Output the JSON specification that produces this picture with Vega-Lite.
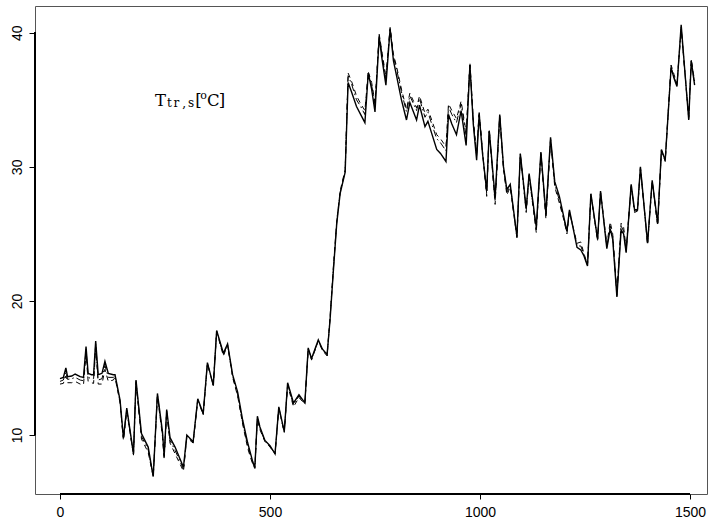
{
  "$schema": "https://vega.github.io/schema/vega-lite/v6.json",
  "autosize": {"type": "none"},
  "padding": {"left": 35, "top": 6, "right": 5, "bottom": 31},
  "width": 672,
  "height": 488,
  "background": "white",
  "config": {
    "view": {"stroke": "#555555", "strokeWidth": 1},
    "axis": {
      "domain": false,
      "grid": false,
      "ticks": true,
      "tickColor": "black",
      "tickWidth": 1,
      "labelFont": "Liberation Sans",
      "labelFontSize": 14,
      "labelColor": "black",
      "title": null
    }
  },
  "data": {
    "values": [
      {"t": 0, "s": 14.2, "d": 13.8, "dd": 14.0},
      {"t": 8, "s": 14.3, "d": 13.85, "dd": 14.1},
      {"t": 14, "s": 15.0, "d": 14.4, "dd": 14.7},
      {"t": 18, "s": 14.35, "d": 13.9, "dd": 14.15},
      {"t": 28, "s": 14.4, "d": 13.9, "dd": 14.2},
      {"t": 36, "s": 14.55, "d": 14.0, "dd": 14.3},
      {"t": 48, "s": 14.35, "d": 13.8, "dd": 14.1},
      {"t": 56, "s": 14.3, "d": 13.75, "dd": 14.05},
      {"t": 62, "s": 16.6, "d": 16.1, "dd": 16.4},
      {"t": 67, "s": 14.6, "d": 14.0, "dd": 14.3},
      {"t": 75, "s": 14.5, "d": 13.9, "dd": 14.2},
      {"t": 80, "s": 14.5, "d": 13.85, "dd": 14.2},
      {"t": 85, "s": 17.0, "d": 16.5, "dd": 16.8},
      {"t": 91, "s": 14.5, "d": 13.8, "dd": 14.1},
      {"t": 100, "s": 14.6, "d": 13.8, "dd": 14.2},
      {"t": 107, "s": 15.5, "d": 14.9, "dd": 15.2},
      {"t": 115, "s": 14.6, "d": 14.0, "dd": 14.3},
      {"t": 127, "s": 14.5, "d": 14.1, "dd": 14.3},
      {"t": 131, "s": 14.5, "d": 14.3, "dd": 14.4},
      {"t": 143, "s": 12.6, "d": 12.4, "dd": 12.5},
      {"t": 151, "s": 9.8, "d": 9.6, "dd": 9.7},
      {"t": 159, "s": 12.0, "d": 11.8, "dd": 11.9},
      {"t": 175, "s": 8.6, "d": 8.5, "dd": 8.5},
      {"t": 181, "s": 14.1, "d": 13.9, "dd": 14.0},
      {"t": 194, "s": 10.1, "d": 9.7, "dd": 9.9},
      {"t": 210, "s": 9.1, "d": 8.7, "dd": 8.9},
      {"t": 222, "s": 6.9, "d": 6.9, "dd": 6.9},
      {"t": 232, "s": 13.1, "d": 12.9, "dd": 13.0},
      {"t": 244, "s": 10.25, "d": 9.9, "dd": 10.1},
      {"t": 248, "s": 8.4, "d": 8.2, "dd": 8.3},
      {"t": 254, "s": 11.9, "d": 11.7, "dd": 11.8},
      {"t": 262, "s": 9.8, "d": 9.4, "dd": 9.6},
      {"t": 274, "s": 9.1, "d": 8.6, "dd": 8.85},
      {"t": 294, "s": 7.6, "d": 7.3, "dd": 7.45},
      {"t": 302, "s": 10.0, "d": 9.8, "dd": 9.9},
      {"t": 317, "s": 9.5, "d": 9.4, "dd": 9.45},
      {"t": 328, "s": 12.7, "d": 12.6, "dd": 12.65},
      {"t": 341, "s": 11.6, "d": 11.5, "dd": 11.55},
      {"t": 351, "s": 15.4, "d": 15.3, "dd": 15.35},
      {"t": 365, "s": 13.7, "d": 13.7, "dd": 13.7},
      {"t": 373, "s": 17.8, "d": 17.7, "dd": 17.75},
      {"t": 389, "s": 16.1, "d": 15.9, "dd": 16.0},
      {"t": 399, "s": 16.8, "d": 16.7, "dd": 16.75},
      {"t": 411, "s": 14.5, "d": 14.3, "dd": 14.4},
      {"t": 423, "s": 13.2, "d": 12.9, "dd": 13.0},
      {"t": 435, "s": 11.1, "d": 10.8, "dd": 10.9},
      {"t": 447, "s": 9.4, "d": 9.0, "dd": 9.2},
      {"t": 459, "s": 8.0, "d": 7.8, "dd": 7.9},
      {"t": 464, "s": 7.6, "d": 7.5, "dd": 7.55},
      {"t": 470, "s": 11.4, "d": 11.2, "dd": 11.3},
      {"t": 476, "s": 10.6, "d": 10.4, "dd": 10.5},
      {"t": 488, "s": 9.6, "d": 9.5, "dd": 9.55},
      {"t": 500, "s": 9.2, "d": 9.1, "dd": 9.15},
      {"t": 512, "s": 8.6, "d": 8.6, "dd": 8.6},
      {"t": 521, "s": 12.1, "d": 12.0, "dd": 12.05},
      {"t": 534, "s": 10.25, "d": 10.2, "dd": 10.2},
      {"t": 542, "s": 13.9, "d": 13.7, "dd": 13.8},
      {"t": 556, "s": 12.4, "d": 12.1, "dd": 12.25},
      {"t": 569, "s": 13.0, "d": 12.8, "dd": 12.9},
      {"t": 583, "s": 12.4, "d": 12.3, "dd": 12.35},
      {"t": 591, "s": 16.5, "d": 16.4, "dd": 16.45},
      {"t": 599, "s": 15.7, "d": 15.6, "dd": 15.65},
      {"t": 615, "s": 17.1, "d": 17.0, "dd": 17.05},
      {"t": 625, "s": 16.4, "d": 16.3, "dd": 16.35},
      {"t": 636, "s": 16.0, "d": 15.9, "dd": 15.95},
      {"t": 643, "s": 18.6, "d": 18.8, "dd": 18.7},
      {"t": 651, "s": 22.3, "d": 22.6, "dd": 22.4},
      {"t": 659, "s": 25.8, "d": 26.0, "dd": 25.9},
      {"t": 667, "s": 28.0, "d": 28.2, "dd": 28.1},
      {"t": 679, "s": 29.6, "d": 29.8, "dd": 29.7},
      {"t": 686, "s": 36.3, "d": 37.0, "dd": 36.8},
      {"t": 694, "s": 35.6, "d": 36.4, "dd": 36.2},
      {"t": 706, "s": 34.5, "d": 35.3, "dd": 35.0},
      {"t": 716, "s": 33.9, "d": 34.7, "dd": 34.5},
      {"t": 726, "s": 33.3, "d": 34.2, "dd": 33.9},
      {"t": 734, "s": 37.0, "d": 37.1, "dd": 37.0},
      {"t": 742, "s": 35.8, "d": 36.3, "dd": 36.1},
      {"t": 750, "s": 34.1, "d": 34.8, "dd": 34.6},
      {"t": 760, "s": 39.7, "d": 39.9, "dd": 39.8},
      {"t": 766, "s": 38.2, "d": 38.7, "dd": 38.5},
      {"t": 776, "s": 36.1, "d": 36.7, "dd": 36.5},
      {"t": 786, "s": 40.3, "d": 40.4, "dd": 40.35},
      {"t": 794, "s": 37.9, "d": 38.4, "dd": 38.2},
      {"t": 802, "s": 36.7, "d": 37.4, "dd": 37.2},
      {"t": 813, "s": 35.0, "d": 35.8, "dd": 35.6},
      {"t": 825, "s": 33.5, "d": 34.3, "dd": 34.1},
      {"t": 833, "s": 34.8, "d": 35.5, "dd": 35.3},
      {"t": 849, "s": 33.5, "d": 34.4, "dd": 34.2},
      {"t": 856, "s": 34.6, "d": 35.3, "dd": 35.1},
      {"t": 869, "s": 33.0, "d": 34.0, "dd": 33.7},
      {"t": 876, "s": 33.4, "d": 34.3, "dd": 34.1},
      {"t": 885, "s": 32.5, "d": 33.5, "dd": 33.2},
      {"t": 897, "s": 31.3, "d": 32.4, "dd": 32.1},
      {"t": 906, "s": 31.0, "d": 32.1, "dd": 31.8},
      {"t": 919, "s": 30.4, "d": 31.5, "dd": 31.2},
      {"t": 925, "s": 33.9, "d": 34.7, "dd": 34.5},
      {"t": 933, "s": 33.2, "d": 34.2, "dd": 33.9},
      {"t": 944, "s": 32.4, "d": 33.6, "dd": 33.3},
      {"t": 955, "s": 34.2, "d": 34.9, "dd": 34.7},
      {"t": 967, "s": 31.6, "d": 32.6, "dd": 32.3},
      {"t": 976, "s": 37.6, "d": 37.8, "dd": 37.7},
      {"t": 984, "s": 33.2, "d": 33.6, "dd": 33.4},
      {"t": 992, "s": 30.5, "d": 31.0, "dd": 30.8},
      {"t": 998, "s": 33.9, "d": 34.2, "dd": 34.0},
      {"t": 1006, "s": 31.0, "d": 31.2, "dd": 31.1},
      {"t": 1016, "s": 28.2, "d": 27.8, "dd": 28.0},
      {"t": 1022, "s": 32.7, "d": 32.8, "dd": 32.75},
      {"t": 1036, "s": 27.7, "d": 27.2, "dd": 27.4},
      {"t": 1047, "s": 33.9, "d": 33.8, "dd": 33.85},
      {"t": 1056, "s": 30.0, "d": 29.8, "dd": 29.9},
      {"t": 1064, "s": 28.3, "d": 27.9, "dd": 28.1},
      {"t": 1072, "s": 28.7, "d": 28.5, "dd": 28.6},
      {"t": 1088, "s": 24.8, "d": 24.7, "dd": 24.75},
      {"t": 1096, "s": 31.0, "d": 30.9, "dd": 30.95},
      {"t": 1110, "s": 26.9, "d": 26.6, "dd": 26.75},
      {"t": 1117, "s": 29.5, "d": 29.3, "dd": 29.4},
      {"t": 1134, "s": 25.5, "d": 25.1, "dd": 25.3},
      {"t": 1145, "s": 31.1, "d": 31.0, "dd": 31.05},
      {"t": 1157, "s": 26.5, "d": 26.1, "dd": 26.3},
      {"t": 1168, "s": 32.2, "d": 32.0, "dd": 32.1},
      {"t": 1178, "s": 28.9, "d": 28.5, "dd": 28.7},
      {"t": 1189, "s": 27.8, "d": 27.3, "dd": 27.5},
      {"t": 1200, "s": 26.2, "d": 26.0, "dd": 26.1},
      {"t": 1207, "s": 25.2, "d": 25.0, "dd": 25.1},
      {"t": 1213, "s": 26.8, "d": 26.6, "dd": 26.7},
      {"t": 1231, "s": 24.0, "d": 24.3, "dd": 24.1},
      {"t": 1240, "s": 23.8, "d": 24.4, "dd": 24.1},
      {"t": 1247, "s": 23.4, "d": 23.6, "dd": 23.5},
      {"t": 1256, "s": 22.6, "d": 22.7, "dd": 22.65},
      {"t": 1264, "s": 28.0, "d": 27.9, "dd": 27.95},
      {"t": 1280, "s": 24.6, "d": 24.5, "dd": 24.55},
      {"t": 1287, "s": 28.2, "d": 28.1, "dd": 28.15},
      {"t": 1302, "s": 23.9, "d": 24.2, "dd": 24.0},
      {"t": 1310, "s": 25.4, "d": 25.9, "dd": 25.6},
      {"t": 1316, "s": 24.6, "d": 25.0, "dd": 24.8},
      {"t": 1326, "s": 20.3, "d": 20.6, "dd": 20.4},
      {"t": 1336, "s": 25.3, "d": 25.8, "dd": 25.6},
      {"t": 1342, "s": 25.0, "d": 25.5, "dd": 25.2},
      {"t": 1348, "s": 23.6, "d": 23.9, "dd": 23.7},
      {"t": 1360, "s": 28.7, "d": 28.5, "dd": 28.6},
      {"t": 1368, "s": 26.8, "d": 26.6, "dd": 26.7},
      {"t": 1375, "s": 26.8, "d": 26.7, "dd": 26.75},
      {"t": 1382, "s": 30.0, "d": 29.9, "dd": 29.95},
      {"t": 1399, "s": 24.3, "d": 24.2, "dd": 24.25},
      {"t": 1410, "s": 29.0, "d": 28.9, "dd": 28.95},
      {"t": 1423, "s": 25.8, "d": 25.6, "dd": 25.7},
      {"t": 1432, "s": 31.3, "d": 31.2, "dd": 31.25},
      {"t": 1441, "s": 30.5, "d": 30.4, "dd": 30.45},
      {"t": 1455, "s": 37.4, "d": 37.6, "dd": 37.5},
      {"t": 1462, "s": 36.6, "d": 36.9, "dd": 36.7},
      {"t": 1469, "s": 36.0, "d": 36.2, "dd": 36.1},
      {"t": 1479, "s": 40.6, "d": 40.3, "dd": 40.4},
      {"t": 1497, "s": 33.5, "d": 33.7, "dd": 33.6},
      {"t": 1503, "s": 37.9, "d": 38.0, "dd": 37.95},
      {"t": 1511, "s": 36.1, "d": 36.4, "dd": 36.2}
    ]
  },
  "layer": [
    {
      "mark": {"type": "line", "stroke": "black", "strokeWidth": 1, "strokeDash": [5, 4], "clip": true},
      "encoding": {
        "x": {"field": "t", "type": "quantitative", "scale": {"domain": [-59.5, 1540.5], "nice": false, "zero": false},
              "axis": {"values": [0, 500, 1000, 1500], "tickSize": 5, "labelPadding": 6, "format": "d"}},
        "y": {"field": "d", "type": "quantitative", "scale": {"domain": [5.6, 42.0], "nice": false, "zero": false},
              "axis": {"values": [10, 20, 30, 40], "tickSize": 6, "labelAngle": 270, "labelAlign": "center", "labelBaseline": "bottom", "labelPadding": 5, "format": "d"}}
      }
    },
    {
      "mark": {"type": "line", "stroke": "black", "strokeWidth": 1, "strokeDash": [7, 3, 1.5, 3], "clip": true},
      "encoding": {
        "x": {"field": "t", "type": "quantitative"},
        "y": {"field": "dd", "type": "quantitative"}
      }
    },
    {
      "mark": {"type": "line", "stroke": "black", "strokeWidth": 1.4, "clip": true},
      "encoding": {
        "x": {"field": "t", "type": "quantitative"},
        "y": {"field": "s", "type": "quantitative"}
      }
    },
    {
      "mark": {"type": "rule", "stroke": "black", "strokeWidth": 1.6},
      "encoding": {"x": {"datum": -59.5}, "y": {"datum": 10}, "y2": {"datum": 40}}
    },
    {
      "mark": {"type": "rule", "stroke": "black", "strokeWidth": 1.6},
      "encoding": {"x": {"datum": 0}, "x2": {"datum": 1500}, "y": {"datum": 5.6}}
    },
    {
      "data": {"values": [
        {"x": 226, "y": 34.55, "txt": "T", "size": 16.5},
        {"x": 350, "y": 34.55, "txt": "C", "size": 16.5},
        {"x": 322, "y": 34.55, "txt": "[", "size": 16.5},
        {"x": 378, "y": 34.55, "txt": "]", "size": 16.5},
        {"x": 255, "y": 34.45, "txt": "t", "size": 12},
        {"x": 270, "y": 34.45, "txt": "r", "size": 12},
        {"x": 291, "y": 34.45, "txt": ",", "size": 12},
        {"x": 305, "y": 34.45, "txt": "s", "size": 12},
        {"x": 334, "y": 35.1, "txt": "o", "size": 11}
      ]},
      "mark": {"type": "text", "align": "left", "baseline": "alphabetic", "font": "DejaVu Serif", "color": "black"},
      "encoding": {
        "x": {"field": "x", "type": "quantitative"},
        "y": {"field": "y", "type": "quantitative"},
        "text": {"field": "txt"},
        "size": {"field": "size", "type": "quantitative", "scale": null}
      }
    }
  ]
}
